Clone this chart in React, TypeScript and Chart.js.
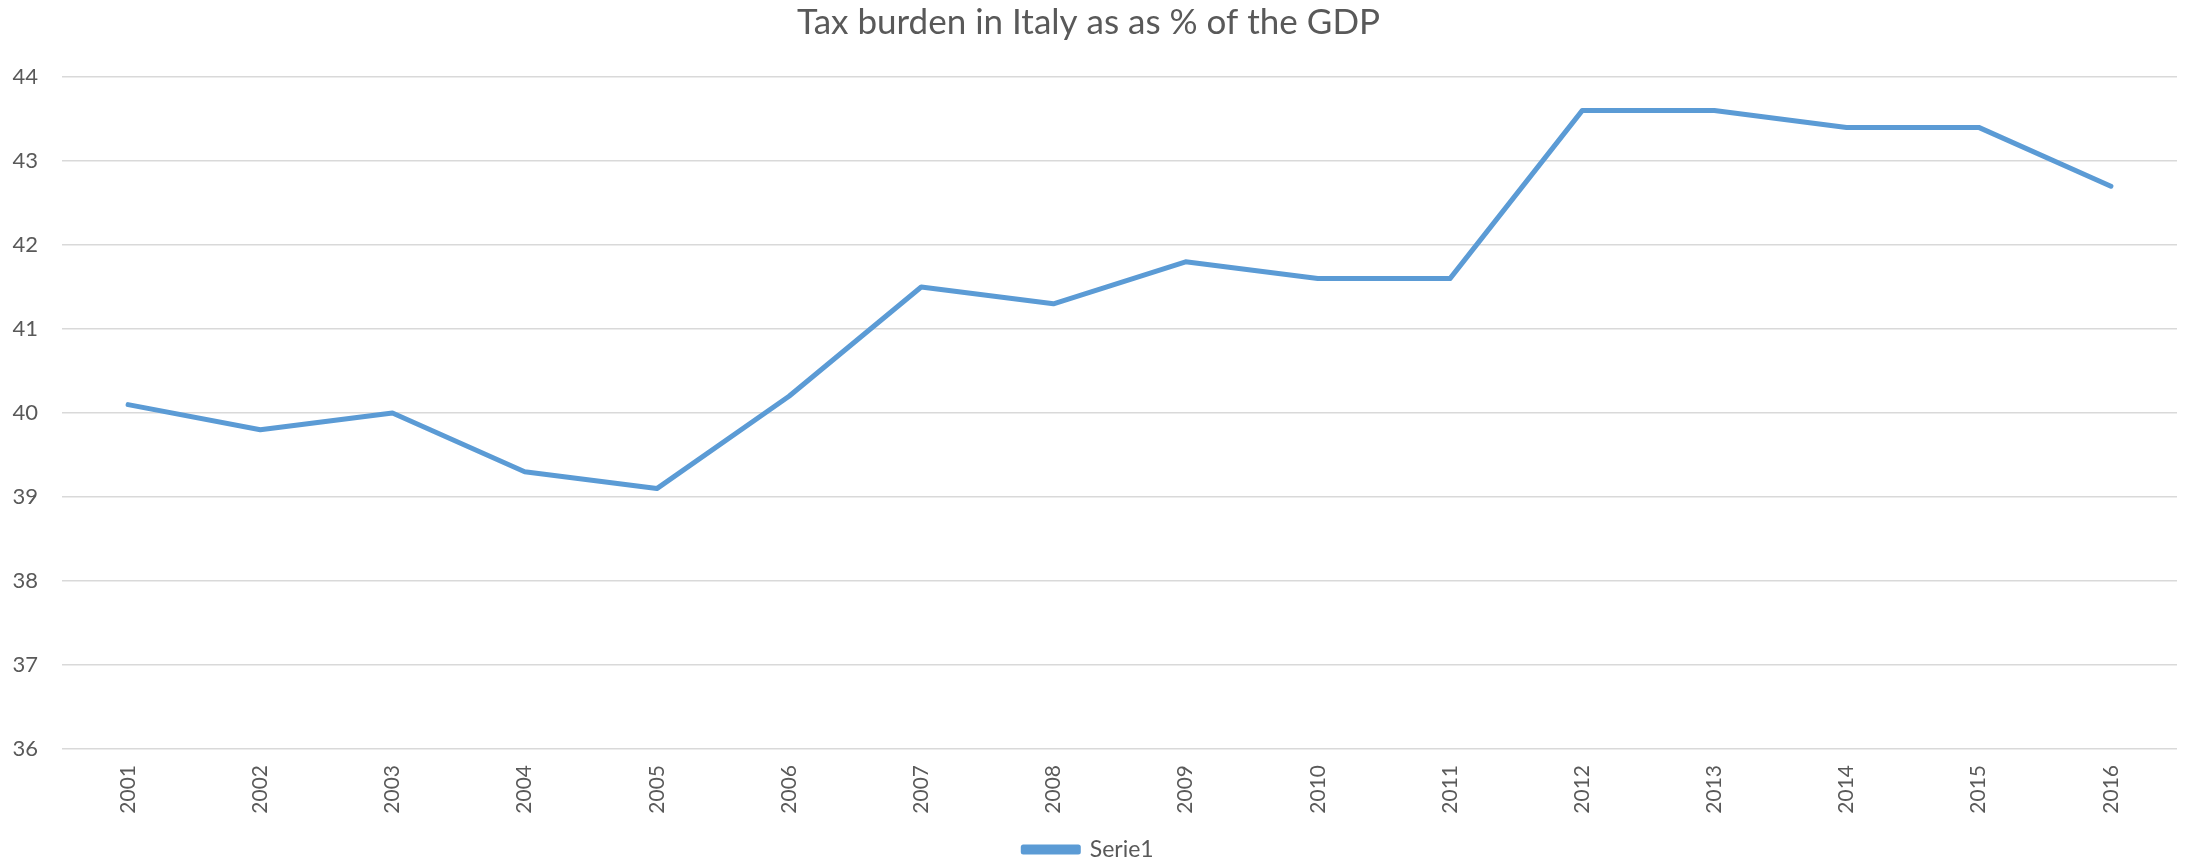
import React, { useEffect, useRef } from "react";
import { Chart, registerables } from "chart.js";

Chart.register(...registerables);

const years = ["2001", "2002", "2003", "2004", "2005", "2006", "2007", "2008", "2009", "2010", "2011", "2012", "2013", "2014", "2015", "2016"];
const taxBurden = [40.1, 39.8, 40.0, 39.3, 39.1, 40.2, 41.5, 41.3, 41.8, 41.6, 41.6, 43.6, 43.6, 43.4, 43.4, 42.7];
const seriesName = "Serie1";
const titleText = "Tax burden in Italy as as % of the GDP";
const yMin = 36;
const yMax = 44;

const FONT = "Lato, 'Open Sans', sans-serif";
const TEXT = "#595959";
const BLUE = "#5B9BD5";

export default function App() {
  const ref = useRef<HTMLCanvasElement | null>(null);

  useEffect(() => {
    if (!ref.current) return;
    const chart = new Chart(ref.current, {
      type: "line",
      data: {
        labels: years,
        datasets: [
          {
            label: seriesName,
            data: taxBurden,
            borderColor: BLUE,
            backgroundColor: BLUE,
            borderWidth: 5,
            pointRadius: 0,
            pointHoverRadius: 0,
            tension: 0,
            borderCapStyle: "round",
            borderJoinStyle: "round",
          },
        ],
      },
      options: {
        animation: false,
        responsive: false,
        maintainAspectRatio: false,
        layout: { padding: { left: 0, right: 11, top: 0, bottom: -6 } },
        plugins: {
          title: {
            display: true,
            text: titleText,
            color: TEXT,
            font: { family: FONT, size: 35, weight: "normal" },
            padding: { top: 2, bottom: 33 },
          },
          legend: {
            display: true,
            position: "bottom",
            labels: {
              color: TEXT,
              font: { family: FONT, size: 23 },
              boxWidth: 55,
              boxHeight: 5,
              padding: 2,
            },
          },
          tooltip: { enabled: false },
        },
        scales: {
          x: {
            offset: true,
            grid: { display: false, drawTicks: false },
            border: { display: false },
            ticks: {
              color: TEXT,
              font: { family: FONT, size: 21 },
              maxRotation: 90,
              minRotation: 90,
              padding: 16,
              autoSkip: false,
            },
            afterFit: (scale: any) => {
              scale.height = 87;
            },
          },
          y: {
            min: yMin,
            max: yMax,
            grid: { color: "#d9d9d9", lineWidth: 1.5, drawTicks: false },
            border: { display: false },
            ticks: {
              stepSize: 1,
              color: TEXT,
              font: { family: FONT, size: 22 },
              padding: 24,
            },
            afterFit: (scale: any) => {
              scale.width = 62;
            },
          },
        },
      },
    });
    return () => chart.destroy();
  }, []);

  return (
    <div style={{ position: "fixed", left: 0, top: 0, width: 2188, height: 865, background: "#fff" }}>
      <canvas ref={ref} width={2188} height={865} style={{ width: 2188, height: 865 }} />
    </div>
  );
}
